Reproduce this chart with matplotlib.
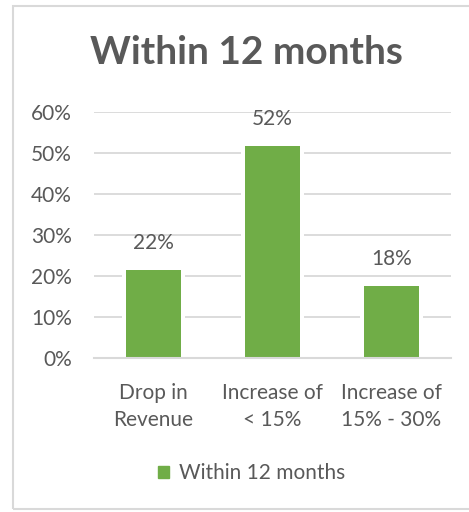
import matplotlib
matplotlib.use('agg')
import matplotlib.pyplot as plt
from matplotlib.patches import Rectangle, Patch
from matplotlib.ticker import PercentFormatter

categories = ['Drop in\nRevenue', 'Increase of\n< 15%', 'Increase of\n15% - 30%']
values = [0.215, 0.517, 0.176]
series_name = 'Within 12 months'
yticks = [0, 0.1, 0.2, 0.3, 0.4, 0.5, 0.6]

green = '#70AD47'
text_col = '#595959'
grid_col = '#D9D9D9'

plt.rcParams['font.family'] = ['Lato', 'DejaVu Sans']

W, H = 469, 512
fig = plt.figure(figsize=(W / 100, H / 100), dpi=100)

# outer chart border (right side runs off the image)
fig.patches.append(Rectangle((13 / W, 1 - 509 / H), 470 / W, 503 / H,
                             transform=fig.transFigure, fill=False,
                             edgecolor=grid_col, linewidth=1.5))

ax = fig.add_axes([94 / W, 1 - 358 / H, 357 / W, 246 / H])
x = range(len(categories))

# white halo behind bars interrupts gridlines like Excel
ax.bar(x, values, width=0.53, color='white', zorder=2)
bars = ax.bar(x, values, width=0.462, color=green, zorder=3, label=series_name)

ax.set_ylim(0, 0.6)
ax.set_xlim(-0.5, 2.5)
ax.set_yticks(yticks)
ax.yaxis.set_major_formatter(PercentFormatter(1.0, decimals=0))
ax.grid(axis='y', color=grid_col, linewidth=1.3, zorder=1)
ax.set_axisbelow(True)
for s in ['top', 'right', 'left']:
    ax.spines[s].set_visible(False)
ax.spines['bottom'].set_color(grid_col)
ax.spines['bottom'].set_linewidth(1.5)
ax.spines['bottom'].set_zorder(4)
ax.tick_params(axis='both', length=0, labelsize=15, labelcolor=text_col)
ax.tick_params(axis='y', pad=16)
ax.tick_params(axis='x', pad=18)
ax.set_xticks(list(x))
ax.set_xticklabels(categories, linespacing=1.45)

for b, v in zip(bars, values):
    ax.annotate(f'{v:.0%}', (b.get_x() + b.get_width() / 2, v),
                xytext=(0, 12), textcoords='offset points',
                ha='center', va='bottom', fontsize=15, color=text_col)

fig.text(246 / W, 1 - 52 / H, 'Within 12 months', ha='center', va='center',
         fontsize=28, fontweight='bold', color=text_col)

fig.legend(handles=[Patch(color=green, label=series_name)],
           loc='center', bbox_to_anchor=(252 / W, 1 - 473 / H),
           frameon=False, fontsize=15, labelcolor=text_col,
           handlelength=0.5, handleheight=0.5, handletextpad=0.5)

fig.savefig('out.png', dpi=100)
